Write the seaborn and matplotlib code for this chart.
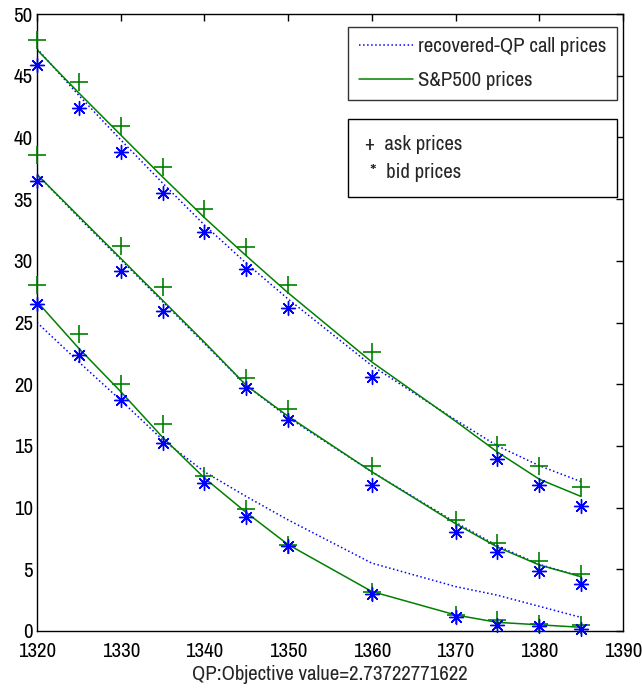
import matplotlib
matplotlib.use("Agg")
import matplotlib.pyplot as plt
from matplotlib import font_manager
from matplotlib.lines import Line2D
from matplotlib.patches import Rectangle
import pandas as pd
import seaborn as sns

# Strike grid per maturity
strikes_a = [1320, 1325, 1330, 1335, 1340, 1345, 1350, 1360, 1370, 1375, 1380, 1385]
strikes_b = [1320, 1325, 1330, 1335, 1340, 1345, 1350, 1360, 1370, 1375, 1380, 1385]
strikes_c = [1320, 1325, 1330, 1335, 1340, 1345, 1350, 1360, 1370, 1375, 1380, 1385]

# Market quotes (strikes where quotes exist)
quote_strikes_a = [1320, 1325, 1330, 1335, 1340, 1345, 1350, 1360, 1375, 1380, 1385]
ask_a = [47.9, 44.5, 40.9, 37.6, 34.2, 31.1, 28.0, 22.6, 15.1, 13.4, 11.7]
bid_a = [45.9, 42.4, 38.8, 35.5, 32.3, 29.3, 26.2, 20.6, 13.9, 11.8, 10.1]

quote_strikes_b = [1320, 1330, 1335, 1345, 1350, 1360, 1370, 1375, 1380, 1385]
ask_b = [38.6, 31.2, 27.9, 20.5, 18.0, 13.4, 9.0, 7.1, 5.7, 4.6]
bid_b = [36.5, 29.2, 25.9, 19.7, 17.1, 11.8, 8.0, 6.4, 4.9, 3.8]

quote_strikes_c = [1320, 1325, 1330, 1335, 1340, 1345, 1350, 1360, 1370, 1375, 1380, 1385]
ask_c = [28.0, 24.1, 20.0, 16.8, 12.6, 9.9, 7.0, 3.2, 1.3, 0.9, 0.6, 0.5]
bid_c = [26.5, 22.4, 18.7, 15.2, 12.0, 9.2, 6.9, 3.0, 1.1, 0.5, 0.4, 0.2]

# S&P500 call prices
spx_a = [47.1, 43.6, 40.2, 36.8, 33.5, 30.4, 27.4, 21.8, 17.0, 14.5, 12.3, 10.9]
spx_b = [37.0, 33.6, 30.2, 26.8, 23.4, 19.9, 17.4, 12.9, 8.7, 6.8, 5.35, 4.4]
spx_c = [26.7, 22.9, 19.4, 15.7, 12.4, 9.6, 7.0, 3.2, 1.3, 0.7, 0.5, 0.3]

# Call prices recovered by the QP
qp_a = [47.2, 43.4, 39.8, 36.3, 32.9, 29.8, 26.9, 21.5, 17.1, 15.0, 13.4, 12.1]
qp_b = [37.0, 33.5, 30.1, 26.7, 23.3, 19.9, 17.3, 12.9, 8.8, 6.9, 5.4, 4.4]
qp_c = [25.0, 21.8, 18.7, 15.5, 12.9, 10.9, 9.0, 5.5, 3.6, 2.9, 2.0, 1.1]

x_ticks = [1320, 1330, 1340, 1350, 1360, 1370, 1380, 1390]
y_ticks = [0, 5, 10, 15, 20, 25, 30, 35, 40, 45, 50]
xlabel = "QP:Objective value=2.73722771622"
legend_labels = ["recovered-QP call prices", "S&P500 prices"]
marker_key = ["+  ask prices", "*  bid prices"]

GREEN = (0.0, 0.5, 0.0)
BLUE = (0.0, 0.0, 1.0)

sns.set_theme(style="white")

# Prefer a narrow sans face when one is installed
entries = font_manager.fontManager.ttflist
narrow = [f for f in entries if "Narrow" in f.name]
condensed_dv = [f for f in entries if f.name == "DejaVu Sans" and "condensed" in str(f.stretch)]
if narrow:
    FAMILY, STRETCH, FS = [narrow[0].name, "DejaVu Sans"], "normal", 15
elif condensed_dv:
    FAMILY, STRETCH, FS = ["DejaVu Sans", "Liberation Sans"], "condensed", 13
else:
    FAMILY, STRETCH, FS = ["Liberation Sans", "DejaVu Sans"], "normal", 12.5
plt.rcParams["font.family"] = FAMILY
plt.rcParams["font.stretch"] = STRETCH
plt.rcParams["font.size"] = FS

fig = plt.figure(figsize=(6.42, 6.98), dpi=100)
ax = fig.add_axes([37 / 642, 67 / 698, 586 / 642, 617 / 698])

curves = pd.concat([
    pd.DataFrame({"strike": s, "price": v, "set": name, "kind": kind})
    for s, v, name, kind in [
        (strikes_a, qp_a, "a", "qp"), (strikes_b, qp_b, "b", "qp"), (strikes_c, qp_c, "c", "qp"),
        (strikes_a, spx_a, "a", "spx"), (strikes_b, spx_b, "b", "spx"), (strikes_c, spx_c, "c", "spx"),
    ]
])

for name in ["a", "b", "c"]:
    d = curves[(curves["set"] == name) & (curves["kind"] == "qp")]
    sns.lineplot(data=d, x="strike", y="price", ax=ax, color=BLUE, linestyle=":",
                 linewidth=1.1, legend=False, sort=False)
for name in ["a", "b", "c"]:
    d = curves[(curves["set"] == name) & (curves["kind"] == "spx")]
    sns.lineplot(data=d, x="strike", y="price", ax=ax, color=GREEN, linestyle="-",
                 linewidth=1.1, legend=False, sort=False)

for qs, ask, bid in [(quote_strikes_a, ask_a, bid_a), (quote_strikes_b, ask_b, bid_b),
                     (quote_strikes_c, ask_c, bid_c)]:
    sns.scatterplot(x=qs, y=ask, ax=ax, marker="+", color=GREEN, s=150,
                    linewidth=1.2, legend=False, zorder=4, clip_on=False)
    sns.scatterplot(x=qs, y=bid, ax=ax, marker=(8, 2, 0), color=BLUE, s=100,
                    linewidth=1.0, legend=False, zorder=5, clip_on=False)

ax.set_xlim(1320, 1390)
ax.set_ylim(0, 50)
ax.set_xticks(x_ticks)
ax.set_yticks(y_ticks)
ax.set_xticklabels([str(t) for t in x_ticks])
ax.set_yticklabels([str(t) for t in y_ticks])
ax.tick_params(direction="in", length=5, width=1, top=True, right=True,
               labelsize=FS, colors="black", pad=3)
ax.tick_params(axis="x", pad=8)
for sp in ax.spines.values():
    sp.set_visible(True)
    sp.set_color("black")
    sp.set_linewidth(1.0)
ax.set_xlabel(xlabel, fontsize=FS, labelpad=3)
ax.set_ylabel("")

# Line legend
handles = [Line2D([], [], color=BLUE, linestyle=":", linewidth=1.1),
           Line2D([], [], color=GREEN, linestyle="-", linewidth=1.1)]
leg = ax.legend(handles, legend_labels,
                loc="upper right", bbox_to_anchor=(0.9898, 0.979),
                frameon=True, fancybox=False, fontsize=FS, handlelength=2.6,
                handletextpad=0.25, borderpad=0.5, labelspacing=0.7,
                borderaxespad=0.0)
leg.get_frame().set_edgecolor("black")
leg.get_frame().set_linewidth(1.0)

# Marker key box
x0 = (348 - 37) / 586
x1 = (617 - 37) / 586
y0 = (631 - 197) / 617
y1 = (631 - 119) / 617
ax.add_patch(Rectangle((x0, y0), x1 - x0, y1 - y0, transform=ax.transAxes,
                       facecolor="white", edgecolor="black", linewidth=1.0, zorder=6))
ax.text((365 - 37) / 586, (631 - 145) / 617, marker_key[0], transform=ax.transAxes,
        fontsize=FS, va="center", ha="left", zorder=7)
ax.text((370 - 37) / 586, (631 - 173) / 617, marker_key[1], transform=ax.transAxes,
        fontsize=FS, va="center", ha="left", zorder=7)

fig.savefig("out.png", dpi=100, facecolor="white")
